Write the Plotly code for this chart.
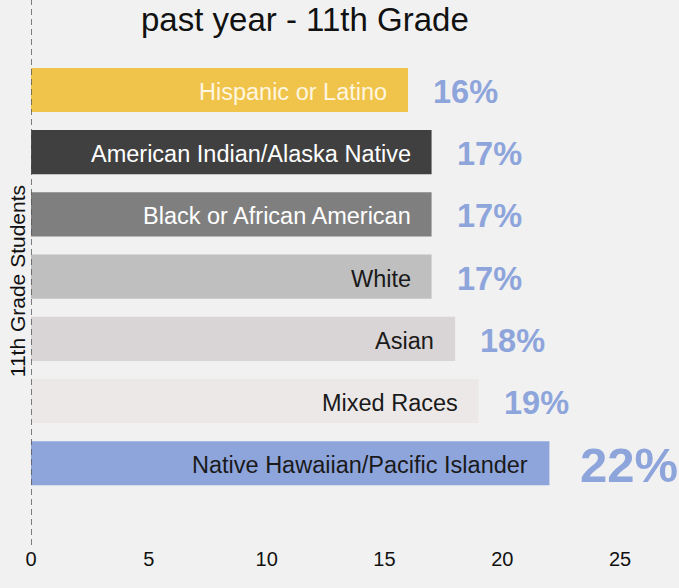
import plotly.graph_objects as go

# Share of 11th grade students, by race/ethnicity (percent)
groups = [
    "Hispanic or Latino",
    "American Indian/Alaska Native",
    "Black or African American",
    "White",
    "Asian",
    "Mixed Races",
    "Native Hawaiian/Pacific Islander",
]
percents = [16, 17, 17, 17, 18, 19, 22]
bar_colors = ["#f0c44a", "#404040", "#7f7f7f", "#bfbfbf", "#d9d4d5", "#ece8e8", "#8ea5dc"]
name_colors = ["#fff6e0", "#ffffff", "#ffffff", "#1a1a1a", "#1a1a1a", "#1a1a1a", "#1a1a1a"]
x_ticks = [0, 5, 10, 15, 20, 25]

title_text = "past year - 11th Grade"
axis_title = "11th Grade Students"

BG = "#f1f1f1"
VALUE_COLOR = "#8ea5dc"
FONT = "Arial"

fig = go.Figure(
    go.Bar(
        x=percents,
        y=groups,
        orientation="h",
        marker=dict(color=bar_colors, line=dict(width=0)),
        width=0.71,
        hoverinfo="skip",
    )
)

annotations = []
top = max(percents)
for g, v, tc in zip(groups, percents, name_colors):
    # group name, right-aligned inside the bar
    annotations.append(dict(
        x=v, y=g, xref="x", yref="y", text=g, showarrow=False,
        xanchor="right", xshift=-19, yshift=-2,
        font=dict(family=FONT, size=23.5, color=tc),
    ))
    # percentage label just past the bar end
    big = v == top
    annotations.append(dict(
        x=v, y=g, xref="x", yref="y", text=f"<b>{v}%</b>", showarrow=False,
        xanchor="left", xshift=29 if big else 23, yshift=-2,
        font=dict(family=FONT, size=49 if big else 32.5, color=VALUE_COLOR),
    ))

annotations.append(dict(
    x=0.423, y=0.965, xref="paper", yref="paper", text=title_text,
    showarrow=False, xanchor="center", yanchor="middle",
    font=dict(family=FONT, size=33, color="#111111"),
))
annotations.append(dict(
    x=0, y=0.484, xref="paper", yref="paper", text=axis_title,
    showarrow=False, textangle=-90, xanchor="center", yanchor="middle",
    xshift=-14,
    font=dict(family=FONT, size=21, color="#111111"),
))

fig.update_layout(
    width=679, height=588,
    margin=dict(l=31, r=0, t=0, b=43),
    paper_bgcolor=BG, plot_bgcolor=BG,
    showlegend=False,
    annotations=annotations,
    shapes=[dict(
        type="line", xref="x", yref="paper", x0=0, x1=0, y0=0, y1=1,
        line=dict(color="#555555", width=1.5, dash="6px,4px"),
    )],
    xaxis=dict(
        range=[0, 27.5], tickvals=x_ticks, showgrid=False, zeroline=False,
        showline=False, ticks="", tickfont=dict(family=FONT, size=20, color="#111111"),
    ),
    yaxis=dict(
        type="category", range=[7.315, -1.447], showticklabels=False,
        showgrid=False, zeroline=False, showline=False, ticks="",
    ),
)

fig.write_html("out.html")
